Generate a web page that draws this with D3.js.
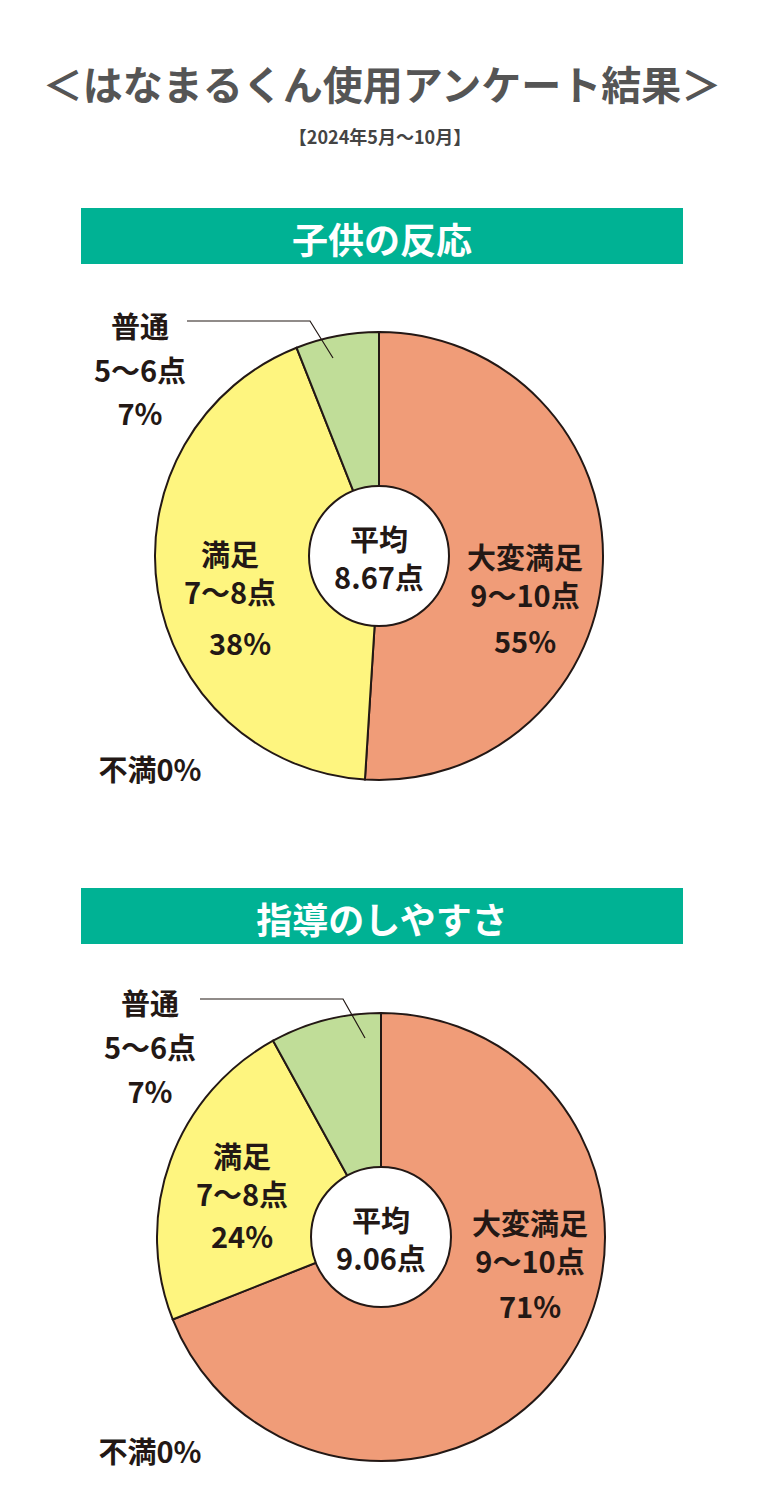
<!DOCTYPE html>
<html><head><meta charset="utf-8">
<script src="https://cdn.jsdelivr.net/npm/d3@7"></script>
<style>body{margin:0;background:#fff}</style>
</head><body>
<script>
const categories = ['大変満足', '満足', '普通'];
const scoreLabels = ['9～10点', '7～8点', '5～6点'];
const colors = ['#f09c78', '#fef57f', '#c0dd98'];
// printed percentages
const childValues = [55, 38, 7];
const teachValues = [71, 24, 7];
// slice sizes as drawn in the picture
const childSlices = [51, 43, 6];
const teachSlices = [69, 23, 8];
const averages = ['8.67点', '9.06点'];
const titles = ['子供の反応', '指導のしやすさ'];

const width = 760, height = 1500;
const font = "'Noto Sans CJK JP', sans-serif";

var svg = d3.select('body').append('svg')
    .attr('width', width)
    .attr('height', height);

svg.append('text').attr('x', 382).attr('y', 100)
    .attr('text-anchor', 'middle').attr('font-family', font)
    .attr('font-weight', 'bold').attr('font-size', 40).attr('fill', '#555')
    .text('＜はなまるくん使用アンケート結果＞');
svg.append('text').attr('x', 380).attr('y', 144)
    .attr('text-anchor', 'middle').attr('font-family', font)
    .attr('font-weight', 'bold').attr('font-size', 18).attr('fill', '#444')
    .text('【2024年5月～10月】');

// one block per chart
const blocks = [
    {values: childValues, slices: childSlices, top: 208, cx: 379, cy: 556,
     lab: [[525, 556], [230, 553], [140, 325]], pct: [[525, 640], [240, 642], [140, 412]],
     lead: [[187, 321], [310, 321], [333, 358]], none: [150, 768]},
    {values: teachValues, slices: teachSlices, top: 888, cx: 381, cy: 1237,
     lab: [[530, 1222], [242, 1155], [150, 1002]], pct: [[530, 1305], [242, 1235], [150, 1090]],
     lead: [[200, 999], [343, 999], [365, 1038]], none: [150, 1450]}
];

const pie = d3.pie().sort(null).value(d => d);
const arc = d3.arc().innerRadius(0).outerRadius(224);

function txt(x, y, s, size) {
    svg.append('text').attr('x', x).attr('y', y)
        .attr('text-anchor', 'middle').attr('dominant-baseline', 'central')
        .attr('font-family', font).attr('font-weight', 'bold')
        .attr('font-size', size || 29).attr('fill', '#231815')
        .text(s);
}

blocks.forEach((b, k) => {
    svg.append('rect').attr('x', 81).attr('y', b.top)
        .attr('width', 602).attr('height', 56).attr('fill', '#00b294');
    svg.append('text').attr('x', 382).attr('y', b.top + 30)
        .attr('text-anchor', 'middle').attr('dominant-baseline', 'central')
        .attr('font-family', font).attr('font-weight', 'bold')
        .attr('font-size', 36).attr('fill', '#fff').text(titles[k]);

    const g = svg.append('g').attr('transform', `translate(${b.cx},${b.cy})`);
    g.selectAll('path').data(pie(b.slices)).enter().append('path')
        .attr('d', arc).attr('fill', (d, i) => colors[i])
        .attr('stroke', '#231815').attr('stroke-width', 2);
    g.append('circle').attr('r', 70).attr('fill', '#fff')
        .attr('stroke', '#231815').attr('stroke-width', 2);

    txt(b.cx, b.cy - 18, '平均');
    txt(b.cx, b.cy + 20, averages[k]);

    b.values.forEach((v, i) => {
        const [x, y] = b.lab[i];
        const gap = i === 2 ? 44 : 38;
        txt(x, y, categories[i]);
        txt(x, y + gap, scoreLabels[i]);
        txt(b.pct[i][0], b.pct[i][1], v + '%');
    });

    svg.append('path').attr('d', d3.line()(b.lead))
        .attr('fill', 'none').attr('stroke', '#231815').attr('stroke-width', 1.2);

    txt(b.none[0], b.none[1], '不満0%');
});
</script>
</body></html>
